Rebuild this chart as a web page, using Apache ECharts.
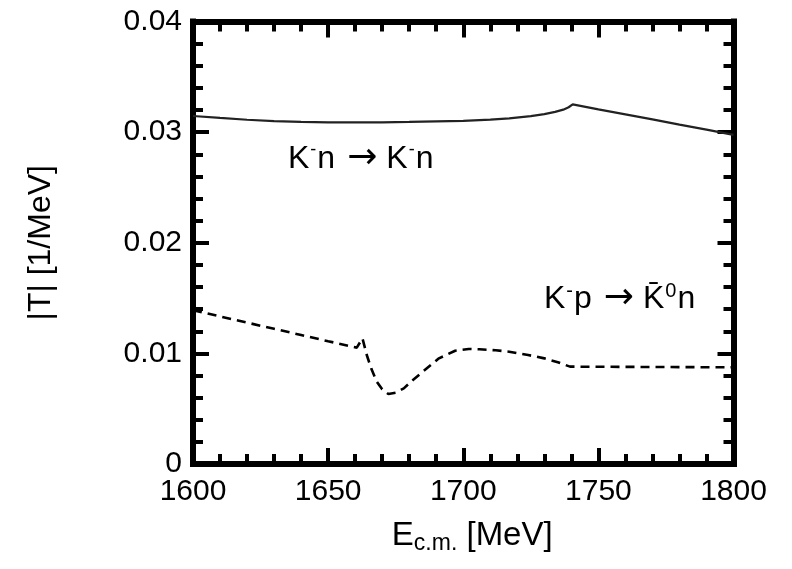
<!DOCTYPE html>
<html>
<head>
<meta charset="utf-8">
<script src="https://cdn.jsdelivr.net/npm/echarts@6/dist/echarts.min.js"></script>
<style>
html,body{margin:0;padding:0;background:#fff;}
#chart{width:792px;height:569px;}
</style>
</head>
<body>
<div id="chart"></div>
<script>
// Energy (MeV) and |T| (1/MeV) for K-n -> K-n (solid)
const solidE = [1600, 1610, 1620, 1630, 1640, 1650, 1660, 1670, 1680, 1690, 1700, 1710, 1717, 1725, 1730, 1734, 1737, 1739, 1740.5, 1750, 1760, 1770, 1780, 1790, 1800];
const solidT = [0.03146, 0.03128, 0.03112, 0.03100, 0.03093, 0.03089, 0.03088, 0.03089, 0.03092, 0.03097, 0.03102, 0.03113, 0.03125, 0.03145, 0.03163, 0.03183, 0.03203, 0.03225, 0.03251, 0.03205, 0.03160, 0.03115, 0.03068, 0.03022, 0.02975];
// K-p -> K0bar n (dashed)
const dashE = [1600, 1610, 1620, 1630, 1640, 1650, 1660.6, 1662.7, 1664.3, 1666, 1668, 1670, 1672.3, 1675, 1678, 1681, 1685, 1691, 1697, 1702, 1706, 1712, 1717, 1724, 1730, 1735, 1739.5, 1750, 1760, 1770, 1780, 1790, 1800];
const dashT = [0.01390, 0.01334, 0.01278, 0.01222, 0.01166, 0.01110, 0.01052, 0.01136, 0.00985, 0.00860, 0.00744, 0.00675, 0.00633, 0.00645, 0.00684, 0.00752, 0.00834, 0.00955, 0.01024, 0.01040, 0.01037, 0.01028, 0.01015, 0.00985, 0.00955, 0.00920, 0.00880, 0.00879, 0.00878, 0.00877, 0.00876, 0.00875, 0.00874];
const xTicks = [1600, 1650, 1700, 1750, 1800];
const yTicks = [0, 0.01, 0.02, 0.03, 0.04];

const font = 'Liberation Sans, Arial, sans-serif';
const zip = (a, b) => a.map((v, i) => [v, b[i]]);

const lineStyle = {color: '#000', width: 6, cap: 'square'};
const tick = {show: true, inside: true, length: 16, lineStyle: {color: '#000', width: 4}};
const minor = {show: true, splitNumber: 5, length: 10, lineStyle: {color: '#000', width: 4}};

function xAx(pos, labels) {
  return {
    type: 'value', position: pos, min: xTicks[0], max: xTicks[xTicks.length - 1], interval: 50,
    axisLine: {show: true, onZero: false, lineStyle: lineStyle},
    axisTick: tick, minorTick: minor, splitLine: {show: false},
    axisLabel: {show: labels, fontSize: 30, color: '#000', fontFamily: font, margin: 13,
      formatter: v => String(v)},
    name: labels ? '{e|E}{s|c.m.}{a| [MeV]}' : '',
    nameLocation: 'middle', nameGap: 52,
    nameTextStyle: {rich: {
      e: {fontSize: 33, color: '#000', fontFamily: font, padding: [0, 0, 0, 18]},
      a: {fontSize: 33, color: '#000', fontFamily: font},
      s: {fontSize: 23, color: '#000', fontFamily: font, verticalAlign: 'bottom', padding: [16, 0, 0, 0]}
    }}
  };
}
function yAx(pos, labels) {
  return {
    type: 'value', position: pos, min: yTicks[0], max: yTicks[yTicks.length - 1], interval: 0.01,
    axisLine: {show: true, onZero: false, lineStyle: lineStyle},
    axisTick: tick, minorTick: minor, splitLine: {show: false},
    axisLabel: {show: labels, fontSize: 30, color: '#000', fontFamily: font, margin: 11,
      formatter: v => v === 0 ? '0' : v.toFixed(2)},
    name: labels ? '|T| [1/MeV]' : '',
    nameLocation: 'middle', nameGap: 136, nameRotate: 90,
    nameTextStyle: {fontSize: 32, color: '#000', fontFamily: font}
  };
}

const chart = echarts.init(document.getElementById('chart'), null, {renderer: 'canvas'});
chart.setOption({
  backgroundColor: '#fff',
  animation: false,
  grid: {left: 193, top: 21.5, width: 540.5, height: 442.5, containLabel: false},
  xAxis: [xAx('bottom', true), xAx('top', false)],
  yAxis: [yAx('left', true), yAx('right', false)],
  series: [
    {type: 'line', data: zip(solidE, solidT), showSymbol: false, smooth: false,
     lineStyle: {color: '#222', width: 2.2}, xAxisIndex: 0, yAxisIndex: 0},
    {type: 'line', data: zip(dashE, dashT), showSymbol: false, smooth: false,
     lineStyle: {color: '#000', width: 2.6, type: [9, 6]}, xAxisIndex: 0, yAxisIndex: 0}
  ],
  graphic: [
    {type: 'text', left: 288, top: 141, style: {
      text: '{a|K}{s|-}{a|n}{r|\u2192}{a|K}{s|-}{a|n}',
      rich: {
        a: {fontSize: 32, fill: '#000', fontFamily: font, lineHeight: 36},
        r: {fontSize: 36, fill: '#000', fontFamily: 'DejaVu Sans, sans-serif', lineHeight: 36, padding: [0, 9, 0, 12]},
        s: {fontSize: 18, fill: '#000', fontFamily: font, verticalAlign: 'top', lineHeight: 36, padding: [0, 1, 16, 1]}
      }}},
    {type: 'text', left: 544, top: 281, style: {
      text: '{a|K}{s|-}{a|p}{r|\u2192}{a|K\u0304}{s|0}{a|n}',
      rich: {
        a: {fontSize: 32, fill: '#000', fontFamily: font, lineHeight: 36},
        r: {fontSize: 36, fill: '#000', fontFamily: 'DejaVu Sans, sans-serif', lineHeight: 36, padding: [0, 9, 0, 12]},
        s: {fontSize: 20, fill: '#000', fontFamily: font, verticalAlign: 'top', lineHeight: 36, padding: [0, 1, 14, 1]}
      }}}
  ]
});
</script>
</body>
</html>
